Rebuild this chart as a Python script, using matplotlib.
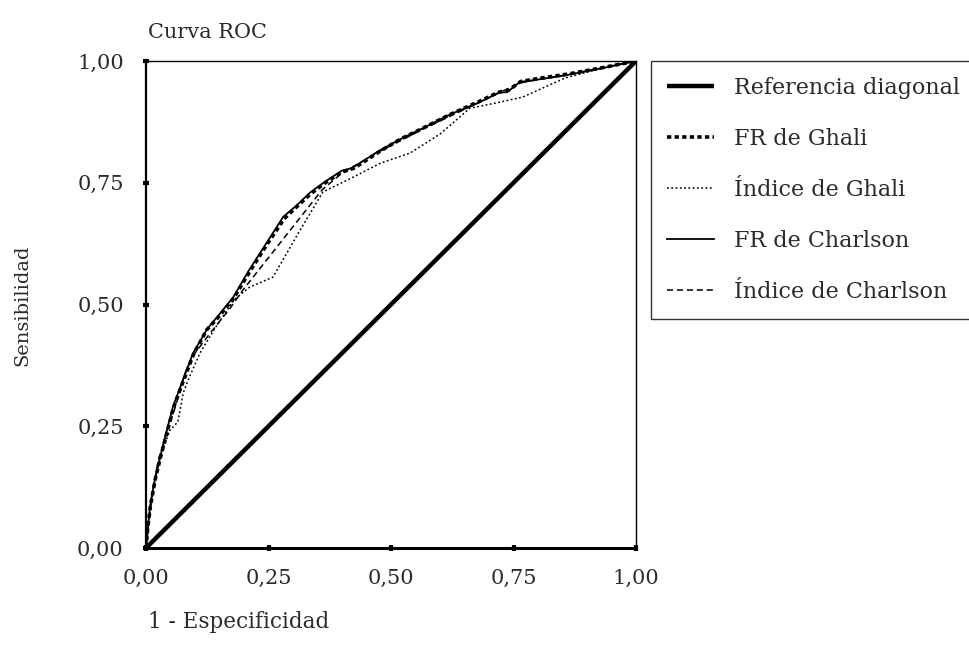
import numpy as np
import matplotlib
matplotlib.use('Agg')
import matplotlib.pyplot as plt

plt.rcParams['font.family'] = ['DejaVu Serif']

# ROC curves (x = 1 - especificidad, y = sensibilidad)
diag_x = [0.0, 1.0]
diag_y = [0.0, 1.0]

fr_ghali_x = [0, 0.004, 0.009, 0.019, 0.030, 0.041, 0.056, 0.074, 0.097, 0.124, 0.146, 0.179, 0.212, 0.248,
              0.282, 0.309, 0.337, 0.366, 0.40, 0.425, 0.478, 0.52, 0.565, 0.62, 0.68, 0.72, 0.74, 0.765,
              0.80, 0.86, 0.93, 1.0]
fr_ghali_y = [0, 0.045, 0.086, 0.142, 0.188, 0.230, 0.288, 0.337, 0.398, 0.448, 0.472, 0.513, 0.568, 0.625,
              0.676, 0.702, 0.728, 0.750, 0.772, 0.780, 0.815, 0.840, 0.862, 0.890, 0.917, 0.936, 0.940, 0.958,
              0.964, 0.973, 0.986, 1.0]

ind_ghali_x = [0, 0.005, 0.015, 0.030, 0.049, 0.053, 0.065, 0.076, 0.086, 0.11, 0.14, 0.18, 0.212, 0.259,
               0.31, 0.361, 0.42, 0.478, 0.539, 0.60, 0.661, 0.72, 0.769, 0.855, 0.93, 1.0]
ind_ghali_y = [0, 0.05, 0.12, 0.19, 0.242, 0.246, 0.259, 0.318, 0.345, 0.40, 0.45, 0.51, 0.536, 0.556,
               0.645, 0.731, 0.76, 0.79, 0.811, 0.85, 0.903, 0.915, 0.926, 0.965, 0.985, 1.0]

fr_charlson_x = [0, 0.004, 0.008, 0.018, 0.029, 0.039, 0.055, 0.073, 0.096, 0.125, 0.145, 0.178, 0.21, 0.247,
                 0.28, 0.308, 0.335, 0.365, 0.40, 0.42, 0.478, 0.52, 0.565, 0.62, 0.68, 0.72, 0.737, 0.763,
                 0.80, 0.859, 0.93, 1.0]
fr_charlson_y = [0, 0.04, 0.084, 0.14, 0.187, 0.228, 0.29, 0.339, 0.40, 0.45, 0.474, 0.515, 0.57, 0.628,
                 0.68, 0.704, 0.73, 0.752, 0.775, 0.78, 0.817, 0.84, 0.862, 0.89, 0.915, 0.935, 0.936, 0.957,
                 0.962, 0.971, 0.985, 1.0]

ind_charlson_x = [0, 0.005, 0.012, 0.025, 0.04, 0.06, 0.08, 0.10, 0.13, 0.17, 0.198, 0.359, 0.40, 0.478,
                  0.565, 0.68, 0.763, 0.859, 1.0]
ind_charlson_y = [0, 0.05, 0.11, 0.18, 0.23, 0.29, 0.36, 0.40, 0.44, 0.49, 0.53, 0.735, 0.77, 0.815,
                  0.86, 0.915, 0.955, 0.972, 1.0]

ticks = [0.0, 0.25, 0.5, 0.75, 1.0]
tick_labels = ['0,00', '0,25', '0,50', '0,75', '1,00']

txt = '#2b2b2b'

fig = plt.figure(figsize=(9.69, 6.57), dpi=100)
ax = fig.add_axes([146/969, 1 - 548/657, 490/969, 487/657])

ax.plot(diag_x, diag_y, color='black', linewidth=3.2, solid_capstyle='butt', label='Referencia diagonal')
ax.plot(fr_ghali_x, fr_ghali_y, color='black', linewidth=2.6, linestyle=(0, (1.2, 0.9)),
        label='FR de Ghali')
ax.plot(ind_ghali_x, ind_ghali_y, color='black', linewidth=1.1, linestyle=(0, (1.2, 1.6)),
        label='Índice de Ghali')
ax.plot(fr_charlson_x, fr_charlson_y, color='black', linewidth=1.3, label='FR de Charlson')
ax.plot(ind_charlson_x, ind_charlson_y, color='black', linewidth=1.1, linestyle=(0, (4, 2.5)),
        label='Índice de Charlson')

ax.set_xlim(0, 1)
ax.set_ylim(0, 1)
ax.set_xticks(ticks)
ax.set_xticklabels(tick_labels)
ax.set_yticks(ticks)
ax.set_yticklabels(tick_labels)
ax.tick_params(axis='both', direction='inout', length=4, width=3, color='black',
               labelsize=15, labelcolor=txt)
ax.tick_params(axis='y', pad=14)
ax.tick_params(axis='x', pad=13)

ax.spines['left'].set_linewidth(1.6)
ax.spines['bottom'].set_linewidth(2.2)
ax.spines['top'].set_linewidth(1.0)
ax.spines['right'].set_linewidth(1.0)

fig.text(148/969, 1 - 33/657, 'Curva ROC', fontsize=15, color=txt, ha='left', va='center')
fig.text(22/969, 1 - 305/657, 'Sensibilidad', fontsize=14, color=txt, rotation=90,
         ha='center', va='center')
fig.text(148/969, 1 - 622/657, '1 - Especificidad', fontsize=15.5, color=txt, ha='left', va='center')

leg = fig.legend(loc='upper left', bbox_to_anchor=(651/969, 1 - 61/657), fontsize=16,
                 frameon=True, fancybox=False, edgecolor='black', handlelength=2.1,
                 handletextpad=0.9, labelspacing=1.3, borderpad=0.72, borderaxespad=0)
leg.get_frame().set_linewidth(1.0)
for t in leg.get_texts():
    t.set_color(txt)

fig.savefig('out.png', dpi=100)
